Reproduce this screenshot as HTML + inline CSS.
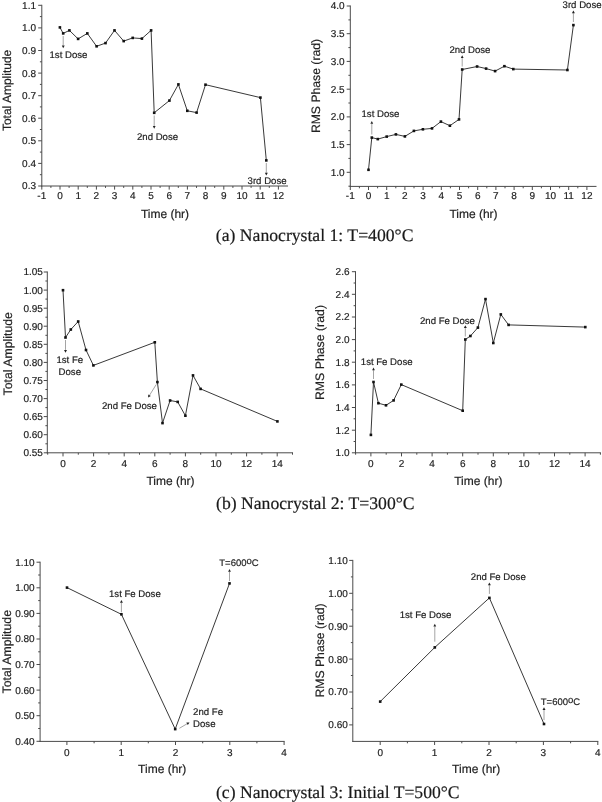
<!DOCTYPE html>
<html><head><meta charset="utf-8"><title>Figure</title>
<style>
html,body{margin:0;padding:0;background:#fff;}
svg{display:block;text-rendering:geometricPrecision;}
.t{font-family:"Liberation Sans",Arial,sans-serif;fill:#222;stroke:#222;stroke-width:0.18px;}
.c{font-family:"Liberation Serif","Times New Roman",serif;fill:#1a1a1a;stroke:#1a1a1a;stroke-width:0.2px;}
</style></head><body>
<svg width="602" height="802" viewBox="0 0 602 802">
<rect width="602" height="802" fill="#fff"/>
<line x1="41.8" y1="4.8" x2="41.8" y2="186.5" stroke="#4a4a4a" stroke-width="1"/>
<line x1="41.3" y1="186.0" x2="288.0" y2="186.0" stroke="#4a4a4a" stroke-width="1"/>
<line x1="38.2" y1="186.0" x2="41.8" y2="186.0" stroke="#4a4a4a" stroke-width="1"/>
<text x="36.0" y="189.4" font-size="10" text-anchor="end" class="t">0.3</text>
<line x1="38.2" y1="163.4" x2="41.8" y2="163.4" stroke="#4a4a4a" stroke-width="1"/>
<text x="36.0" y="166.8" font-size="10" text-anchor="end" class="t">0.4</text>
<line x1="38.2" y1="140.8" x2="41.8" y2="140.8" stroke="#4a4a4a" stroke-width="1"/>
<text x="36.0" y="144.2" font-size="10" text-anchor="end" class="t">0.5</text>
<line x1="38.2" y1="118.2" x2="41.8" y2="118.2" stroke="#4a4a4a" stroke-width="1"/>
<text x="36.0" y="121.6" font-size="10" text-anchor="end" class="t">0.6</text>
<line x1="38.2" y1="95.7" x2="41.8" y2="95.7" stroke="#4a4a4a" stroke-width="1"/>
<text x="36.0" y="99.1" font-size="10" text-anchor="end" class="t">0.7</text>
<line x1="38.2" y1="73.1" x2="41.8" y2="73.1" stroke="#4a4a4a" stroke-width="1"/>
<text x="36.0" y="76.5" font-size="10" text-anchor="end" class="t">0.8</text>
<line x1="38.2" y1="50.5" x2="41.8" y2="50.5" stroke="#4a4a4a" stroke-width="1"/>
<text x="36.0" y="53.9" font-size="10" text-anchor="end" class="t">0.9</text>
<line x1="38.2" y1="27.9" x2="41.8" y2="27.9" stroke="#4a4a4a" stroke-width="1"/>
<text x="36.0" y="31.3" font-size="10" text-anchor="end" class="t">1.0</text>
<line x1="38.2" y1="5.3" x2="41.8" y2="5.3" stroke="#4a4a4a" stroke-width="1"/>
<text x="36.0" y="8.7" font-size="10" text-anchor="end" class="t">1.1</text>
<line x1="39.9" y1="174.7" x2="41.8" y2="174.7" stroke="#4a4a4a" stroke-width="1"/>
<line x1="39.9" y1="152.1" x2="41.8" y2="152.1" stroke="#4a4a4a" stroke-width="1"/>
<line x1="39.9" y1="129.5" x2="41.8" y2="129.5" stroke="#4a4a4a" stroke-width="1"/>
<line x1="39.9" y1="106.9" x2="41.8" y2="106.9" stroke="#4a4a4a" stroke-width="1"/>
<line x1="39.9" y1="84.4" x2="41.8" y2="84.4" stroke="#4a4a4a" stroke-width="1"/>
<line x1="39.9" y1="61.8" x2="41.8" y2="61.8" stroke="#4a4a4a" stroke-width="1"/>
<line x1="39.9" y1="39.2" x2="41.8" y2="39.2" stroke="#4a4a4a" stroke-width="1"/>
<line x1="39.9" y1="16.6" x2="41.8" y2="16.6" stroke="#4a4a4a" stroke-width="1"/>
<line x1="41.8" y1="186.0" x2="41.8" y2="189.6" stroke="#4a4a4a" stroke-width="1"/>
<text x="41.8" y="199.4" font-size="10" text-anchor="middle" class="t">-1</text>
<line x1="60.0" y1="186.0" x2="60.0" y2="189.6" stroke="#4a4a4a" stroke-width="1"/>
<text x="60.0" y="199.4" font-size="10" text-anchor="middle" class="t">0</text>
<line x1="78.2" y1="186.0" x2="78.2" y2="189.6" stroke="#4a4a4a" stroke-width="1"/>
<text x="78.2" y="199.4" font-size="10" text-anchor="middle" class="t">1</text>
<line x1="96.4" y1="186.0" x2="96.4" y2="189.6" stroke="#4a4a4a" stroke-width="1"/>
<text x="96.4" y="199.4" font-size="10" text-anchor="middle" class="t">2</text>
<line x1="114.6" y1="186.0" x2="114.6" y2="189.6" stroke="#4a4a4a" stroke-width="1"/>
<text x="114.6" y="199.4" font-size="10" text-anchor="middle" class="t">3</text>
<line x1="132.8" y1="186.0" x2="132.8" y2="189.6" stroke="#4a4a4a" stroke-width="1"/>
<text x="132.8" y="199.4" font-size="10" text-anchor="middle" class="t">4</text>
<line x1="151.0" y1="186.0" x2="151.0" y2="189.6" stroke="#4a4a4a" stroke-width="1"/>
<text x="151.0" y="199.4" font-size="10" text-anchor="middle" class="t">5</text>
<line x1="169.2" y1="186.0" x2="169.2" y2="189.6" stroke="#4a4a4a" stroke-width="1"/>
<text x="169.2" y="199.4" font-size="10" text-anchor="middle" class="t">6</text>
<line x1="187.4" y1="186.0" x2="187.4" y2="189.6" stroke="#4a4a4a" stroke-width="1"/>
<text x="187.4" y="199.4" font-size="10" text-anchor="middle" class="t">7</text>
<line x1="205.6" y1="186.0" x2="205.6" y2="189.6" stroke="#4a4a4a" stroke-width="1"/>
<text x="205.6" y="199.4" font-size="10" text-anchor="middle" class="t">8</text>
<line x1="223.8" y1="186.0" x2="223.8" y2="189.6" stroke="#4a4a4a" stroke-width="1"/>
<text x="223.8" y="199.4" font-size="10" text-anchor="middle" class="t">9</text>
<line x1="242.0" y1="186.0" x2="242.0" y2="189.6" stroke="#4a4a4a" stroke-width="1"/>
<text x="242.0" y="199.4" font-size="10" text-anchor="middle" class="t">10</text>
<line x1="260.2" y1="186.0" x2="260.2" y2="189.6" stroke="#4a4a4a" stroke-width="1"/>
<text x="260.2" y="199.4" font-size="10" text-anchor="middle" class="t">11</text>
<line x1="278.4" y1="186.0" x2="278.4" y2="189.6" stroke="#4a4a4a" stroke-width="1"/>
<text x="278.4" y="199.4" font-size="10" text-anchor="middle" class="t">12</text>
<line x1="50.9" y1="186.0" x2="50.9" y2="187.9" stroke="#4a4a4a" stroke-width="1"/>
<line x1="69.1" y1="186.0" x2="69.1" y2="187.9" stroke="#4a4a4a" stroke-width="1"/>
<line x1="87.3" y1="186.0" x2="87.3" y2="187.9" stroke="#4a4a4a" stroke-width="1"/>
<line x1="105.5" y1="186.0" x2="105.5" y2="187.9" stroke="#4a4a4a" stroke-width="1"/>
<line x1="123.7" y1="186.0" x2="123.7" y2="187.9" stroke="#4a4a4a" stroke-width="1"/>
<line x1="141.9" y1="186.0" x2="141.9" y2="187.9" stroke="#4a4a4a" stroke-width="1"/>
<line x1="160.1" y1="186.0" x2="160.1" y2="187.9" stroke="#4a4a4a" stroke-width="1"/>
<line x1="178.3" y1="186.0" x2="178.3" y2="187.9" stroke="#4a4a4a" stroke-width="1"/>
<line x1="196.5" y1="186.0" x2="196.5" y2="187.9" stroke="#4a4a4a" stroke-width="1"/>
<line x1="214.7" y1="186.0" x2="214.7" y2="187.9" stroke="#4a4a4a" stroke-width="1"/>
<line x1="232.9" y1="186.0" x2="232.9" y2="187.9" stroke="#4a4a4a" stroke-width="1"/>
<line x1="251.1" y1="186.0" x2="251.1" y2="187.9" stroke="#4a4a4a" stroke-width="1"/>
<line x1="269.3" y1="186.0" x2="269.3" y2="187.9" stroke="#4a4a4a" stroke-width="1"/>
<text x="11.2" y="90.4" font-size="12" text-anchor="middle" class="t" transform="rotate(-90 11.2 90.4)">Total Amplitude</text>
<text x="165.0" y="218.3" font-size="12" text-anchor="middle" class="t">Time (hr)</text>
<polyline points="59.9,27.4 63.2,33.4 69.4,30.4 78.1,38.9 87.3,33.4 96.6,46.3 105.5,43.1 114.5,30.4 123.7,41.1 132.7,37.9 141.9,38.6 151.1,30.4 154.2,112.8 169.4,100.6 178.4,84.4 187.3,110.8 196.6,112.6 205.5,84.7 260.4,97.6 266.3,160.4" fill="none" stroke="#222" stroke-width="0.9"/>
<rect x="58.6" y="26.1" width="2.6" height="2.6" fill="#111"/>
<rect x="61.9" y="32.1" width="2.6" height="2.6" fill="#111"/>
<rect x="68.1" y="29.1" width="2.6" height="2.6" fill="#111"/>
<rect x="76.8" y="37.6" width="2.6" height="2.6" fill="#111"/>
<rect x="86.0" y="32.1" width="2.6" height="2.6" fill="#111"/>
<rect x="95.3" y="45.0" width="2.6" height="2.6" fill="#111"/>
<rect x="104.2" y="41.8" width="2.6" height="2.6" fill="#111"/>
<rect x="113.2" y="29.1" width="2.6" height="2.6" fill="#111"/>
<rect x="122.4" y="39.8" width="2.6" height="2.6" fill="#111"/>
<rect x="131.4" y="36.6" width="2.6" height="2.6" fill="#111"/>
<rect x="140.6" y="37.3" width="2.6" height="2.6" fill="#111"/>
<rect x="149.8" y="29.1" width="2.6" height="2.6" fill="#111"/>
<rect x="152.9" y="111.5" width="2.6" height="2.6" fill="#111"/>
<rect x="168.1" y="99.3" width="2.6" height="2.6" fill="#111"/>
<rect x="177.1" y="83.1" width="2.6" height="2.6" fill="#111"/>
<rect x="186.0" y="109.5" width="2.6" height="2.6" fill="#111"/>
<rect x="195.3" y="111.3" width="2.6" height="2.6" fill="#111"/>
<rect x="204.2" y="83.4" width="2.6" height="2.6" fill="#111"/>
<rect x="259.1" y="96.3" width="2.6" height="2.6" fill="#111"/>
<rect x="265.0" y="159.1" width="2.6" height="2.6" fill="#111"/>
<line x1="63.2" y1="36.0" x2="63.2" y2="45.5" stroke="#9a9a9a" stroke-width="0.9"/>
<polygon points="63.2,48.3 61.8,45.5 64.7,45.5" fill="#222"/>
<text x="49.5" y="58.0" font-size="9.6" text-anchor="start" class="t">1st Dose</text>
<line x1="154.2" y1="115.5" x2="154.2" y2="126.0" stroke="#9a9a9a" stroke-width="0.9"/>
<polygon points="154.2,128.8 152.8,126.0 155.6,126.0" fill="#222"/>
<text x="137.0" y="140.2" font-size="9.6" text-anchor="start" class="t">2nd Dose</text>
<line x1="266.3" y1="163.0" x2="266.3" y2="172.8" stroke="#9a9a9a" stroke-width="0.9"/>
<polygon points="266.3,175.6 264.9,172.8 267.8,172.8" fill="#222"/>
<text x="247.6" y="183.8" font-size="9.6" text-anchor="start" class="t">3rd Dose</text>
<line x1="350.3" y1="5.5" x2="350.3" y2="186.9" stroke="#4a4a4a" stroke-width="1"/>
<line x1="349.8" y1="186.4" x2="596.5" y2="186.4" stroke="#4a4a4a" stroke-width="1"/>
<line x1="346.7" y1="172.3" x2="350.3" y2="172.3" stroke="#4a4a4a" stroke-width="1"/>
<text x="344.6" y="175.7" font-size="10" text-anchor="end" class="t">1.0</text>
<line x1="346.7" y1="144.6" x2="350.3" y2="144.6" stroke="#4a4a4a" stroke-width="1"/>
<text x="344.6" y="148.0" font-size="10" text-anchor="end" class="t">1.5</text>
<line x1="346.7" y1="116.9" x2="350.3" y2="116.9" stroke="#4a4a4a" stroke-width="1"/>
<text x="344.6" y="120.3" font-size="10" text-anchor="end" class="t">2.0</text>
<line x1="346.7" y1="89.2" x2="350.3" y2="89.2" stroke="#4a4a4a" stroke-width="1"/>
<text x="344.6" y="92.6" font-size="10" text-anchor="end" class="t">2.5</text>
<line x1="346.7" y1="61.4" x2="350.3" y2="61.4" stroke="#4a4a4a" stroke-width="1"/>
<text x="344.6" y="64.8" font-size="10" text-anchor="end" class="t">3.0</text>
<line x1="346.7" y1="33.7" x2="350.3" y2="33.7" stroke="#4a4a4a" stroke-width="1"/>
<text x="344.6" y="37.1" font-size="10" text-anchor="end" class="t">3.5</text>
<line x1="346.7" y1="6.0" x2="350.3" y2="6.0" stroke="#4a4a4a" stroke-width="1"/>
<text x="344.6" y="9.4" font-size="10" text-anchor="end" class="t">4.0</text>
<line x1="348.4" y1="186.2" x2="350.3" y2="186.2" stroke="#4a4a4a" stroke-width="1"/>
<line x1="348.4" y1="158.4" x2="350.3" y2="158.4" stroke="#4a4a4a" stroke-width="1"/>
<line x1="348.4" y1="130.7" x2="350.3" y2="130.7" stroke="#4a4a4a" stroke-width="1"/>
<line x1="348.4" y1="103.0" x2="350.3" y2="103.0" stroke="#4a4a4a" stroke-width="1"/>
<line x1="348.4" y1="75.3" x2="350.3" y2="75.3" stroke="#4a4a4a" stroke-width="1"/>
<line x1="348.4" y1="47.6" x2="350.3" y2="47.6" stroke="#4a4a4a" stroke-width="1"/>
<line x1="348.4" y1="19.9" x2="350.3" y2="19.9" stroke="#4a4a4a" stroke-width="1"/>
<line x1="350.3" y1="186.4" x2="350.3" y2="190.0" stroke="#4a4a4a" stroke-width="1"/>
<text x="350.3" y="199.4" font-size="10" text-anchor="middle" class="t">-1</text>
<line x1="368.5" y1="186.4" x2="368.5" y2="190.0" stroke="#4a4a4a" stroke-width="1"/>
<text x="368.5" y="199.4" font-size="10" text-anchor="middle" class="t">0</text>
<line x1="386.7" y1="186.4" x2="386.7" y2="190.0" stroke="#4a4a4a" stroke-width="1"/>
<text x="386.7" y="199.4" font-size="10" text-anchor="middle" class="t">1</text>
<line x1="404.9" y1="186.4" x2="404.9" y2="190.0" stroke="#4a4a4a" stroke-width="1"/>
<text x="404.9" y="199.4" font-size="10" text-anchor="middle" class="t">2</text>
<line x1="423.1" y1="186.4" x2="423.1" y2="190.0" stroke="#4a4a4a" stroke-width="1"/>
<text x="423.1" y="199.4" font-size="10" text-anchor="middle" class="t">3</text>
<line x1="441.3" y1="186.4" x2="441.3" y2="190.0" stroke="#4a4a4a" stroke-width="1"/>
<text x="441.3" y="199.4" font-size="10" text-anchor="middle" class="t">4</text>
<line x1="459.5" y1="186.4" x2="459.5" y2="190.0" stroke="#4a4a4a" stroke-width="1"/>
<text x="459.5" y="199.4" font-size="10" text-anchor="middle" class="t">5</text>
<line x1="477.7" y1="186.4" x2="477.7" y2="190.0" stroke="#4a4a4a" stroke-width="1"/>
<text x="477.7" y="199.4" font-size="10" text-anchor="middle" class="t">6</text>
<line x1="495.9" y1="186.4" x2="495.9" y2="190.0" stroke="#4a4a4a" stroke-width="1"/>
<text x="495.9" y="199.4" font-size="10" text-anchor="middle" class="t">7</text>
<line x1="514.1" y1="186.4" x2="514.1" y2="190.0" stroke="#4a4a4a" stroke-width="1"/>
<text x="514.1" y="199.4" font-size="10" text-anchor="middle" class="t">8</text>
<line x1="532.3" y1="186.4" x2="532.3" y2="190.0" stroke="#4a4a4a" stroke-width="1"/>
<text x="532.3" y="199.4" font-size="10" text-anchor="middle" class="t">9</text>
<line x1="550.5" y1="186.4" x2="550.5" y2="190.0" stroke="#4a4a4a" stroke-width="1"/>
<text x="550.5" y="199.4" font-size="10" text-anchor="middle" class="t">10</text>
<line x1="568.7" y1="186.4" x2="568.7" y2="190.0" stroke="#4a4a4a" stroke-width="1"/>
<text x="568.7" y="199.4" font-size="10" text-anchor="middle" class="t">11</text>
<line x1="586.9" y1="186.4" x2="586.9" y2="190.0" stroke="#4a4a4a" stroke-width="1"/>
<text x="586.9" y="199.4" font-size="10" text-anchor="middle" class="t">12</text>
<line x1="359.4" y1="186.4" x2="359.4" y2="188.3" stroke="#4a4a4a" stroke-width="1"/>
<line x1="377.6" y1="186.4" x2="377.6" y2="188.3" stroke="#4a4a4a" stroke-width="1"/>
<line x1="395.8" y1="186.4" x2="395.8" y2="188.3" stroke="#4a4a4a" stroke-width="1"/>
<line x1="414.0" y1="186.4" x2="414.0" y2="188.3" stroke="#4a4a4a" stroke-width="1"/>
<line x1="432.2" y1="186.4" x2="432.2" y2="188.3" stroke="#4a4a4a" stroke-width="1"/>
<line x1="450.4" y1="186.4" x2="450.4" y2="188.3" stroke="#4a4a4a" stroke-width="1"/>
<line x1="468.6" y1="186.4" x2="468.6" y2="188.3" stroke="#4a4a4a" stroke-width="1"/>
<line x1="486.8" y1="186.4" x2="486.8" y2="188.3" stroke="#4a4a4a" stroke-width="1"/>
<line x1="505.0" y1="186.4" x2="505.0" y2="188.3" stroke="#4a4a4a" stroke-width="1"/>
<line x1="523.2" y1="186.4" x2="523.2" y2="188.3" stroke="#4a4a4a" stroke-width="1"/>
<line x1="541.4" y1="186.4" x2="541.4" y2="188.3" stroke="#4a4a4a" stroke-width="1"/>
<line x1="559.6" y1="186.4" x2="559.6" y2="188.3" stroke="#4a4a4a" stroke-width="1"/>
<line x1="577.8" y1="186.4" x2="577.8" y2="188.3" stroke="#4a4a4a" stroke-width="1"/>
<text x="319.8" y="86.0" font-size="12.2" text-anchor="middle" class="t" transform="rotate(-90 319.8 86.0)">RMS Phase (rad)</text>
<text x="473.5" y="218.1" font-size="12" text-anchor="middle" class="t">Time (hr)</text>
<polyline points="368.5,169.8 371.8,137.6 377.8,139.1 386.7,136.6 395.9,134.4 404.9,136.4 413.9,130.9 422.9,129.3 432.0,128.4 440.9,121.6 449.9,125.7 459.0,119.4 462.2,69.5 477.1,66.5 486.1,68.6 495.1,71.1 504.4,66.2 513.3,69.1 567.4,70.0 573.4,25.1" fill="none" stroke="#222" stroke-width="0.9"/>
<rect x="367.2" y="168.5" width="2.6" height="2.6" fill="#111"/>
<rect x="370.5" y="136.3" width="2.6" height="2.6" fill="#111"/>
<rect x="376.5" y="137.8" width="2.6" height="2.6" fill="#111"/>
<rect x="385.4" y="135.3" width="2.6" height="2.6" fill="#111"/>
<rect x="394.6" y="133.1" width="2.6" height="2.6" fill="#111"/>
<rect x="403.6" y="135.1" width="2.6" height="2.6" fill="#111"/>
<rect x="412.6" y="129.6" width="2.6" height="2.6" fill="#111"/>
<rect x="421.6" y="128.0" width="2.6" height="2.6" fill="#111"/>
<rect x="430.7" y="127.1" width="2.6" height="2.6" fill="#111"/>
<rect x="439.6" y="120.3" width="2.6" height="2.6" fill="#111"/>
<rect x="448.6" y="124.4" width="2.6" height="2.6" fill="#111"/>
<rect x="457.7" y="118.1" width="2.6" height="2.6" fill="#111"/>
<rect x="460.9" y="68.2" width="2.6" height="2.6" fill="#111"/>
<rect x="475.8" y="65.2" width="2.6" height="2.6" fill="#111"/>
<rect x="484.8" y="67.3" width="2.6" height="2.6" fill="#111"/>
<rect x="493.8" y="69.8" width="2.6" height="2.6" fill="#111"/>
<rect x="503.1" y="64.9" width="2.6" height="2.6" fill="#111"/>
<rect x="512.0" y="67.8" width="2.6" height="2.6" fill="#111"/>
<rect x="566.1" y="68.7" width="2.6" height="2.6" fill="#111"/>
<rect x="572.1" y="23.8" width="2.6" height="2.6" fill="#111"/>
<line x1="371.8" y1="134.5" x2="371.8" y2="123.8" stroke="#9a9a9a" stroke-width="0.9"/>
<polygon points="371.8,121.0 373.2,123.8 370.4,123.8" fill="#222"/>
<text x="361.5" y="116.5" font-size="9.6" text-anchor="start" class="t">1st Dose</text>
<line x1="462.2" y1="66.5" x2="462.2" y2="58.1" stroke="#9a9a9a" stroke-width="0.9"/>
<polygon points="462.2,55.3 463.6,58.1 460.8,58.1" fill="#222"/>
<text x="449.4" y="52.6" font-size="9.6" text-anchor="start" class="t">2nd Dose</text>
<line x1="573.4" y1="22.0" x2="573.4" y2="13.2" stroke="#9a9a9a" stroke-width="0.9"/>
<polygon points="573.4,10.4 574.9,13.2 571.9,13.2" fill="#222"/>
<text x="562.6" y="8.0" font-size="9.6" text-anchor="start" class="t">3rd Dose</text>
<line x1="47.3" y1="271.5" x2="47.3" y2="453.3" stroke="#4a4a4a" stroke-width="1"/>
<line x1="46.8" y1="452.8" x2="293.0" y2="452.8" stroke="#4a4a4a" stroke-width="1"/>
<line x1="43.7" y1="452.8" x2="47.3" y2="452.8" stroke="#4a4a4a" stroke-width="1"/>
<text x="42.9" y="456.2" font-size="10" text-anchor="end" class="t">0.55</text>
<line x1="43.7" y1="434.7" x2="47.3" y2="434.7" stroke="#4a4a4a" stroke-width="1"/>
<text x="42.9" y="438.1" font-size="10" text-anchor="end" class="t">0.60</text>
<line x1="43.7" y1="416.6" x2="47.3" y2="416.6" stroke="#4a4a4a" stroke-width="1"/>
<text x="42.9" y="420.0" font-size="10" text-anchor="end" class="t">0.65</text>
<line x1="43.7" y1="398.6" x2="47.3" y2="398.6" stroke="#4a4a4a" stroke-width="1"/>
<text x="42.9" y="402.0" font-size="10" text-anchor="end" class="t">0.70</text>
<line x1="43.7" y1="380.5" x2="47.3" y2="380.5" stroke="#4a4a4a" stroke-width="1"/>
<text x="42.9" y="383.9" font-size="10" text-anchor="end" class="t">0.75</text>
<line x1="43.7" y1="362.4" x2="47.3" y2="362.4" stroke="#4a4a4a" stroke-width="1"/>
<text x="42.9" y="365.8" font-size="10" text-anchor="end" class="t">0.80</text>
<line x1="43.7" y1="344.3" x2="47.3" y2="344.3" stroke="#4a4a4a" stroke-width="1"/>
<text x="42.9" y="347.7" font-size="10" text-anchor="end" class="t">0.85</text>
<line x1="43.7" y1="326.2" x2="47.3" y2="326.2" stroke="#4a4a4a" stroke-width="1"/>
<text x="42.9" y="329.6" font-size="10" text-anchor="end" class="t">0.90</text>
<line x1="43.7" y1="308.2" x2="47.3" y2="308.2" stroke="#4a4a4a" stroke-width="1"/>
<text x="42.9" y="311.6" font-size="10" text-anchor="end" class="t">0.95</text>
<line x1="43.7" y1="290.1" x2="47.3" y2="290.1" stroke="#4a4a4a" stroke-width="1"/>
<text x="42.9" y="293.5" font-size="10" text-anchor="end" class="t">1.00</text>
<line x1="43.7" y1="272.0" x2="47.3" y2="272.0" stroke="#4a4a4a" stroke-width="1"/>
<text x="42.9" y="275.4" font-size="10" text-anchor="end" class="t">1.05</text>
<line x1="45.4" y1="443.8" x2="47.3" y2="443.8" stroke="#4a4a4a" stroke-width="1"/>
<line x1="45.4" y1="425.7" x2="47.3" y2="425.7" stroke="#4a4a4a" stroke-width="1"/>
<line x1="45.4" y1="407.6" x2="47.3" y2="407.6" stroke="#4a4a4a" stroke-width="1"/>
<line x1="45.4" y1="389.5" x2="47.3" y2="389.5" stroke="#4a4a4a" stroke-width="1"/>
<line x1="45.4" y1="371.4" x2="47.3" y2="371.4" stroke="#4a4a4a" stroke-width="1"/>
<line x1="45.4" y1="353.4" x2="47.3" y2="353.4" stroke="#4a4a4a" stroke-width="1"/>
<line x1="45.4" y1="335.3" x2="47.3" y2="335.3" stroke="#4a4a4a" stroke-width="1"/>
<line x1="45.4" y1="317.2" x2="47.3" y2="317.2" stroke="#4a4a4a" stroke-width="1"/>
<line x1="45.4" y1="299.1" x2="47.3" y2="299.1" stroke="#4a4a4a" stroke-width="1"/>
<line x1="45.4" y1="281.0" x2="47.3" y2="281.0" stroke="#4a4a4a" stroke-width="1"/>
<line x1="63.0" y1="452.8" x2="63.0" y2="456.4" stroke="#4a4a4a" stroke-width="1"/>
<text x="63.0" y="466.6" font-size="10" text-anchor="middle" class="t">0</text>
<line x1="93.6" y1="452.8" x2="93.6" y2="456.4" stroke="#4a4a4a" stroke-width="1"/>
<text x="93.6" y="466.6" font-size="10" text-anchor="middle" class="t">2</text>
<line x1="124.2" y1="452.8" x2="124.2" y2="456.4" stroke="#4a4a4a" stroke-width="1"/>
<text x="124.2" y="466.6" font-size="10" text-anchor="middle" class="t">4</text>
<line x1="154.8" y1="452.8" x2="154.8" y2="456.4" stroke="#4a4a4a" stroke-width="1"/>
<text x="154.8" y="466.6" font-size="10" text-anchor="middle" class="t">6</text>
<line x1="185.4" y1="452.8" x2="185.4" y2="456.4" stroke="#4a4a4a" stroke-width="1"/>
<text x="185.4" y="466.6" font-size="10" text-anchor="middle" class="t">8</text>
<line x1="216.0" y1="452.8" x2="216.0" y2="456.4" stroke="#4a4a4a" stroke-width="1"/>
<text x="216.0" y="466.6" font-size="10" text-anchor="middle" class="t">10</text>
<line x1="246.6" y1="452.8" x2="246.6" y2="456.4" stroke="#4a4a4a" stroke-width="1"/>
<text x="246.6" y="466.6" font-size="10" text-anchor="middle" class="t">12</text>
<line x1="277.2" y1="452.8" x2="277.2" y2="456.4" stroke="#4a4a4a" stroke-width="1"/>
<text x="277.2" y="466.6" font-size="10" text-anchor="middle" class="t">14</text>
<line x1="47.7" y1="452.8" x2="47.7" y2="454.7" stroke="#4a4a4a" stroke-width="1"/>
<line x1="78.3" y1="452.8" x2="78.3" y2="454.7" stroke="#4a4a4a" stroke-width="1"/>
<line x1="108.9" y1="452.8" x2="108.9" y2="454.7" stroke="#4a4a4a" stroke-width="1"/>
<line x1="139.5" y1="452.8" x2="139.5" y2="454.7" stroke="#4a4a4a" stroke-width="1"/>
<line x1="170.1" y1="452.8" x2="170.1" y2="454.7" stroke="#4a4a4a" stroke-width="1"/>
<line x1="200.7" y1="452.8" x2="200.7" y2="454.7" stroke="#4a4a4a" stroke-width="1"/>
<line x1="231.3" y1="452.8" x2="231.3" y2="454.7" stroke="#4a4a4a" stroke-width="1"/>
<line x1="261.9" y1="452.8" x2="261.9" y2="454.7" stroke="#4a4a4a" stroke-width="1"/>
<line x1="292.5" y1="452.8" x2="292.5" y2="454.7" stroke="#4a4a4a" stroke-width="1"/>
<text x="11.6" y="353.8" font-size="12.3" text-anchor="middle" class="t" transform="rotate(-90 11.6 353.8)">Total Amplitude</text>
<text x="170.5" y="484.9" font-size="12" text-anchor="middle" class="t">Time (hr)</text>
<polyline points="63.0,290.2 65.5,337.5 70.8,329.5 78.2,321.5 86.0,350.0 93.4,365.4 154.8,342.3 157.4,382.1 162.5,423.1 170.1,400.5 177.7,401.9 185.4,415.7 193.0,375.4 200.6,388.9 277.4,421.4" fill="none" stroke="#222" stroke-width="0.9"/>
<rect x="61.7" y="288.9" width="2.6" height="2.6" fill="#111"/>
<rect x="64.2" y="336.2" width="2.6" height="2.6" fill="#111"/>
<rect x="69.5" y="328.2" width="2.6" height="2.6" fill="#111"/>
<rect x="76.9" y="320.2" width="2.6" height="2.6" fill="#111"/>
<rect x="84.7" y="348.7" width="2.6" height="2.6" fill="#111"/>
<rect x="92.1" y="364.1" width="2.6" height="2.6" fill="#111"/>
<rect x="153.5" y="341.0" width="2.6" height="2.6" fill="#111"/>
<rect x="156.1" y="380.8" width="2.6" height="2.6" fill="#111"/>
<rect x="161.2" y="421.8" width="2.6" height="2.6" fill="#111"/>
<rect x="168.8" y="399.2" width="2.6" height="2.6" fill="#111"/>
<rect x="176.4" y="400.6" width="2.6" height="2.6" fill="#111"/>
<rect x="184.1" y="414.4" width="2.6" height="2.6" fill="#111"/>
<rect x="191.7" y="374.1" width="2.6" height="2.6" fill="#111"/>
<rect x="199.3" y="387.6" width="2.6" height="2.6" fill="#111"/>
<rect x="276.1" y="420.1" width="2.6" height="2.6" fill="#111"/>
<line x1="65.5" y1="340.0" x2="65.5" y2="349.9" stroke="#9a9a9a" stroke-width="0.9"/>
<polygon points="65.5,352.7 64.0,349.9 67.0,349.9" fill="#222"/>
<text x="69.8" y="362.9" font-size="9.6" text-anchor="middle" class="t">1st Fe</text>
<text x="69.8" y="374.9" font-size="9.6" text-anchor="middle" class="t">Dose</text>
<line x1="156.3" y1="384.4" x2="149.5" y2="395.3" stroke="#9a9a9a" stroke-width="0.9"/>
<polygon points="148.1,397.6 148.3,394.5 150.8,396.0" fill="#222"/>
<text x="102.0" y="409.0" font-size="9.6" text-anchor="start" class="t">2nd Fe Dose</text>
<line x1="355.5" y1="271.2" x2="355.5" y2="453.3" stroke="#4a4a4a" stroke-width="1"/>
<line x1="355.0" y1="452.8" x2="600.9" y2="452.8" stroke="#4a4a4a" stroke-width="1"/>
<line x1="351.9" y1="452.8" x2="355.5" y2="452.8" stroke="#4a4a4a" stroke-width="1"/>
<text x="349.5" y="456.2" font-size="10" text-anchor="end" class="t">1.0</text>
<line x1="351.9" y1="430.2" x2="355.5" y2="430.2" stroke="#4a4a4a" stroke-width="1"/>
<text x="349.5" y="433.6" font-size="10" text-anchor="end" class="t">1.2</text>
<line x1="351.9" y1="407.5" x2="355.5" y2="407.5" stroke="#4a4a4a" stroke-width="1"/>
<text x="349.5" y="410.9" font-size="10" text-anchor="end" class="t">1.4</text>
<line x1="351.9" y1="384.9" x2="355.5" y2="384.9" stroke="#4a4a4a" stroke-width="1"/>
<text x="349.5" y="388.3" font-size="10" text-anchor="end" class="t">1.6</text>
<line x1="351.9" y1="362.2" x2="355.5" y2="362.2" stroke="#4a4a4a" stroke-width="1"/>
<text x="349.5" y="365.6" font-size="10" text-anchor="end" class="t">1.8</text>
<line x1="351.9" y1="339.6" x2="355.5" y2="339.6" stroke="#4a4a4a" stroke-width="1"/>
<text x="349.5" y="343.0" font-size="10" text-anchor="end" class="t">2.0</text>
<line x1="351.9" y1="317.0" x2="355.5" y2="317.0" stroke="#4a4a4a" stroke-width="1"/>
<text x="349.5" y="320.4" font-size="10" text-anchor="end" class="t">2.2</text>
<line x1="351.9" y1="294.3" x2="355.5" y2="294.3" stroke="#4a4a4a" stroke-width="1"/>
<text x="349.5" y="297.7" font-size="10" text-anchor="end" class="t">2.4</text>
<line x1="351.9" y1="271.7" x2="355.5" y2="271.7" stroke="#4a4a4a" stroke-width="1"/>
<text x="349.5" y="275.1" font-size="10" text-anchor="end" class="t">2.6</text>
<line x1="353.6" y1="441.5" x2="355.5" y2="441.5" stroke="#4a4a4a" stroke-width="1"/>
<line x1="353.6" y1="418.8" x2="355.5" y2="418.8" stroke="#4a4a4a" stroke-width="1"/>
<line x1="353.6" y1="396.2" x2="355.5" y2="396.2" stroke="#4a4a4a" stroke-width="1"/>
<line x1="353.6" y1="373.6" x2="355.5" y2="373.6" stroke="#4a4a4a" stroke-width="1"/>
<line x1="353.6" y1="350.9" x2="355.5" y2="350.9" stroke="#4a4a4a" stroke-width="1"/>
<line x1="353.6" y1="328.3" x2="355.5" y2="328.3" stroke="#4a4a4a" stroke-width="1"/>
<line x1="353.6" y1="305.7" x2="355.5" y2="305.7" stroke="#4a4a4a" stroke-width="1"/>
<line x1="353.6" y1="283.0" x2="355.5" y2="283.0" stroke="#4a4a4a" stroke-width="1"/>
<line x1="370.9" y1="452.8" x2="370.9" y2="456.4" stroke="#4a4a4a" stroke-width="1"/>
<text x="370.9" y="466.6" font-size="10" text-anchor="middle" class="t">0</text>
<line x1="401.5" y1="452.8" x2="401.5" y2="456.4" stroke="#4a4a4a" stroke-width="1"/>
<text x="401.5" y="466.6" font-size="10" text-anchor="middle" class="t">2</text>
<line x1="432.1" y1="452.8" x2="432.1" y2="456.4" stroke="#4a4a4a" stroke-width="1"/>
<text x="432.1" y="466.6" font-size="10" text-anchor="middle" class="t">4</text>
<line x1="462.7" y1="452.8" x2="462.7" y2="456.4" stroke="#4a4a4a" stroke-width="1"/>
<text x="462.7" y="466.6" font-size="10" text-anchor="middle" class="t">6</text>
<line x1="493.3" y1="452.8" x2="493.3" y2="456.4" stroke="#4a4a4a" stroke-width="1"/>
<text x="493.3" y="466.6" font-size="10" text-anchor="middle" class="t">8</text>
<line x1="523.9" y1="452.8" x2="523.9" y2="456.4" stroke="#4a4a4a" stroke-width="1"/>
<text x="523.9" y="466.6" font-size="10" text-anchor="middle" class="t">10</text>
<line x1="554.5" y1="452.8" x2="554.5" y2="456.4" stroke="#4a4a4a" stroke-width="1"/>
<text x="554.5" y="466.6" font-size="10" text-anchor="middle" class="t">12</text>
<line x1="585.1" y1="452.8" x2="585.1" y2="456.4" stroke="#4a4a4a" stroke-width="1"/>
<text x="585.1" y="466.6" font-size="10" text-anchor="middle" class="t">14</text>
<line x1="355.6" y1="452.8" x2="355.6" y2="454.7" stroke="#4a4a4a" stroke-width="1"/>
<line x1="386.2" y1="452.8" x2="386.2" y2="454.7" stroke="#4a4a4a" stroke-width="1"/>
<line x1="416.8" y1="452.8" x2="416.8" y2="454.7" stroke="#4a4a4a" stroke-width="1"/>
<line x1="447.4" y1="452.8" x2="447.4" y2="454.7" stroke="#4a4a4a" stroke-width="1"/>
<line x1="478.0" y1="452.8" x2="478.0" y2="454.7" stroke="#4a4a4a" stroke-width="1"/>
<line x1="508.6" y1="452.8" x2="508.6" y2="454.7" stroke="#4a4a4a" stroke-width="1"/>
<line x1="539.2" y1="452.8" x2="539.2" y2="454.7" stroke="#4a4a4a" stroke-width="1"/>
<line x1="569.8" y1="452.8" x2="569.8" y2="454.7" stroke="#4a4a4a" stroke-width="1"/>
<line x1="600.4" y1="452.8" x2="600.4" y2="454.7" stroke="#4a4a4a" stroke-width="1"/>
<text x="324.2" y="352.5" font-size="12.3" text-anchor="middle" class="t" transform="rotate(-90 324.2 352.5)">RMS Phase (rad)</text>
<text x="478.3" y="484.9" font-size="12" text-anchor="middle" class="t">Time (hr)</text>
<polyline points="370.9,434.9 373.5,382.0 378.4,403.2 386.0,405.3 393.6,400.4 401.3,384.6 462.7,410.7 465.3,339.5 470.4,336.0 477.9,327.6 485.5,299.1 493.3,343.0 500.8,314.4 508.6,324.9 585.3,327.1" fill="none" stroke="#222" stroke-width="0.9"/>
<rect x="369.6" y="433.6" width="2.6" height="2.6" fill="#111"/>
<rect x="372.2" y="380.7" width="2.6" height="2.6" fill="#111"/>
<rect x="377.1" y="401.9" width="2.6" height="2.6" fill="#111"/>
<rect x="384.7" y="404.0" width="2.6" height="2.6" fill="#111"/>
<rect x="392.3" y="399.1" width="2.6" height="2.6" fill="#111"/>
<rect x="400.0" y="383.3" width="2.6" height="2.6" fill="#111"/>
<rect x="461.4" y="409.4" width="2.6" height="2.6" fill="#111"/>
<rect x="464.0" y="338.2" width="2.6" height="2.6" fill="#111"/>
<rect x="469.1" y="334.7" width="2.6" height="2.6" fill="#111"/>
<rect x="476.6" y="326.3" width="2.6" height="2.6" fill="#111"/>
<rect x="484.2" y="297.8" width="2.6" height="2.6" fill="#111"/>
<rect x="492.0" y="341.7" width="2.6" height="2.6" fill="#111"/>
<rect x="499.5" y="313.1" width="2.6" height="2.6" fill="#111"/>
<rect x="507.3" y="323.6" width="2.6" height="2.6" fill="#111"/>
<rect x="584.0" y="325.8" width="2.6" height="2.6" fill="#111"/>
<line x1="373.5" y1="379.0" x2="373.5" y2="370.2" stroke="#9a9a9a" stroke-width="0.9"/>
<polygon points="373.5,367.4 374.9,370.2 372.1,370.2" fill="#222"/>
<text x="360.8" y="364.7" font-size="9.6" text-anchor="start" class="t">1st Fe Dose</text>
<line x1="465.3" y1="336.5" x2="465.3" y2="328.1" stroke="#9a9a9a" stroke-width="0.9"/>
<polygon points="465.3,325.3 466.8,328.1 463.9,328.1" fill="#222"/>
<text x="420.0" y="323.5" font-size="9.6" text-anchor="start" class="t">2nd Fe Dose</text>
<line x1="40.1" y1="561.7" x2="40.1" y2="741.9" stroke="#4a4a4a" stroke-width="1"/>
<line x1="39.6" y1="741.4" x2="284.6" y2="741.4" stroke="#4a4a4a" stroke-width="1"/>
<line x1="36.5" y1="741.3" x2="40.1" y2="741.3" stroke="#4a4a4a" stroke-width="1"/>
<text x="34.6" y="744.7" font-size="10" text-anchor="end" class="t">0.40</text>
<line x1="36.5" y1="715.7" x2="40.1" y2="715.7" stroke="#4a4a4a" stroke-width="1"/>
<text x="34.6" y="719.1" font-size="10" text-anchor="end" class="t">0.50</text>
<line x1="36.5" y1="690.1" x2="40.1" y2="690.1" stroke="#4a4a4a" stroke-width="1"/>
<text x="34.6" y="693.5" font-size="10" text-anchor="end" class="t">0.60</text>
<line x1="36.5" y1="664.5" x2="40.1" y2="664.5" stroke="#4a4a4a" stroke-width="1"/>
<text x="34.6" y="667.9" font-size="10" text-anchor="end" class="t">0.70</text>
<line x1="36.5" y1="639.0" x2="40.1" y2="639.0" stroke="#4a4a4a" stroke-width="1"/>
<text x="34.6" y="642.4" font-size="10" text-anchor="end" class="t">0.80</text>
<line x1="36.5" y1="613.4" x2="40.1" y2="613.4" stroke="#4a4a4a" stroke-width="1"/>
<text x="34.6" y="616.8" font-size="10" text-anchor="end" class="t">0.90</text>
<line x1="36.5" y1="587.8" x2="40.1" y2="587.8" stroke="#4a4a4a" stroke-width="1"/>
<text x="34.6" y="591.2" font-size="10" text-anchor="end" class="t">1.00</text>
<line x1="36.5" y1="562.2" x2="40.1" y2="562.2" stroke="#4a4a4a" stroke-width="1"/>
<text x="34.6" y="565.6" font-size="10" text-anchor="end" class="t">1.10</text>
<line x1="38.2" y1="728.5" x2="40.1" y2="728.5" stroke="#4a4a4a" stroke-width="1"/>
<line x1="38.2" y1="702.9" x2="40.1" y2="702.9" stroke="#4a4a4a" stroke-width="1"/>
<line x1="38.2" y1="677.3" x2="40.1" y2="677.3" stroke="#4a4a4a" stroke-width="1"/>
<line x1="38.2" y1="651.8" x2="40.1" y2="651.8" stroke="#4a4a4a" stroke-width="1"/>
<line x1="38.2" y1="626.2" x2="40.1" y2="626.2" stroke="#4a4a4a" stroke-width="1"/>
<line x1="38.2" y1="600.6" x2="40.1" y2="600.6" stroke="#4a4a4a" stroke-width="1"/>
<line x1="38.2" y1="575.0" x2="40.1" y2="575.0" stroke="#4a4a4a" stroke-width="1"/>
<line x1="66.9" y1="741.4" x2="66.9" y2="745.0" stroke="#4a4a4a" stroke-width="1"/>
<text x="66.9" y="755.6" font-size="10" text-anchor="middle" class="t">0</text>
<line x1="121.2" y1="741.4" x2="121.2" y2="745.0" stroke="#4a4a4a" stroke-width="1"/>
<text x="121.2" y="755.6" font-size="10" text-anchor="middle" class="t">1</text>
<line x1="175.5" y1="741.4" x2="175.5" y2="745.0" stroke="#4a4a4a" stroke-width="1"/>
<text x="175.5" y="755.6" font-size="10" text-anchor="middle" class="t">2</text>
<line x1="229.8" y1="741.4" x2="229.8" y2="745.0" stroke="#4a4a4a" stroke-width="1"/>
<text x="229.8" y="755.6" font-size="10" text-anchor="middle" class="t">3</text>
<line x1="284.1" y1="741.4" x2="284.1" y2="745.0" stroke="#4a4a4a" stroke-width="1"/>
<text x="284.1" y="755.6" font-size="10" text-anchor="middle" class="t">4</text>
<line x1="94.1" y1="741.4" x2="94.1" y2="743.3" stroke="#4a4a4a" stroke-width="1"/>
<line x1="148.3" y1="741.4" x2="148.3" y2="743.3" stroke="#4a4a4a" stroke-width="1"/>
<line x1="202.7" y1="741.4" x2="202.7" y2="743.3" stroke="#4a4a4a" stroke-width="1"/>
<line x1="256.9" y1="741.4" x2="256.9" y2="743.3" stroke="#4a4a4a" stroke-width="1"/>
<text x="11.3" y="651.7" font-size="12.3" text-anchor="middle" class="t" transform="rotate(-90 11.3 651.7)">Total Amplitude</text>
<text x="162.2" y="772.8" font-size="12" text-anchor="middle" class="t">Time (hr)</text>
<polyline points="67.0,587.6 121.4,614.3 175.2,729.1 229.5,583.4" fill="none" stroke="#222" stroke-width="0.9"/>
<rect x="65.7" y="586.3" width="2.6" height="2.6" fill="#111"/>
<rect x="120.1" y="613.0" width="2.6" height="2.6" fill="#111"/>
<rect x="173.9" y="727.8" width="2.6" height="2.6" fill="#111"/>
<rect x="228.2" y="582.1" width="2.6" height="2.6" fill="#111"/>
<line x1="121.4" y1="612.3" x2="121.4" y2="602.8" stroke="#9a9a9a" stroke-width="0.9"/>
<polygon points="121.4,600.0 122.9,602.8 120.0,602.8" fill="#222"/>
<text x="109.0" y="597.0" font-size="9.6" text-anchor="start" class="t">1st Fe Dose</text>
<line x1="179.4" y1="728.3" x2="187.0" y2="723.8" stroke="#9a9a9a" stroke-width="0.9"/>
<polygon points="189.5,722.4 187.8,725.1 186.3,722.6" fill="#222"/>
<text x="193.1" y="714.6" font-size="9.6" text-anchor="start" class="t">2nd Fe</text>
<text x="193.1" y="726.6" font-size="9.6" text-anchor="start" class="t">Dose</text>
<line x1="229.5" y1="581.0" x2="229.5" y2="571.8" stroke="#9a9a9a" stroke-width="0.9"/>
<polygon points="229.5,569.0 230.9,571.8 228.1,571.8" fill="#222"/>
<text x="219.3" y="566.4" font-size="9.5" class="t">T=600<tspan dy="-2.6">o</tspan><tspan dy="2.6">C</tspan></text>
<line x1="352.8" y1="559.9" x2="352.8" y2="741.9" stroke="#4a4a4a" stroke-width="1"/>
<line x1="352.3" y1="741.4" x2="598.3" y2="741.4" stroke="#4a4a4a" stroke-width="1"/>
<line x1="349.2" y1="724.9" x2="352.8" y2="724.9" stroke="#4a4a4a" stroke-width="1"/>
<text x="347.8" y="728.3" font-size="10" text-anchor="end" class="t">0.60</text>
<line x1="349.2" y1="692.0" x2="352.8" y2="692.0" stroke="#4a4a4a" stroke-width="1"/>
<text x="347.8" y="695.4" font-size="10" text-anchor="end" class="t">0.70</text>
<line x1="349.2" y1="659.1" x2="352.8" y2="659.1" stroke="#4a4a4a" stroke-width="1"/>
<text x="347.8" y="662.5" font-size="10" text-anchor="end" class="t">0.80</text>
<line x1="349.2" y1="626.2" x2="352.8" y2="626.2" stroke="#4a4a4a" stroke-width="1"/>
<text x="347.8" y="629.6" font-size="10" text-anchor="end" class="t">0.90</text>
<line x1="349.2" y1="593.3" x2="352.8" y2="593.3" stroke="#4a4a4a" stroke-width="1"/>
<text x="347.8" y="596.7" font-size="10" text-anchor="end" class="t">1.00</text>
<line x1="349.2" y1="560.4" x2="352.8" y2="560.4" stroke="#4a4a4a" stroke-width="1"/>
<text x="347.8" y="563.8" font-size="10" text-anchor="end" class="t">1.10</text>
<line x1="350.9" y1="708.4" x2="352.8" y2="708.4" stroke="#4a4a4a" stroke-width="1"/>
<line x1="350.9" y1="675.5" x2="352.8" y2="675.5" stroke="#4a4a4a" stroke-width="1"/>
<line x1="350.9" y1="642.6" x2="352.8" y2="642.6" stroke="#4a4a4a" stroke-width="1"/>
<line x1="350.9" y1="609.8" x2="352.8" y2="609.8" stroke="#4a4a4a" stroke-width="1"/>
<line x1="350.9" y1="576.9" x2="352.8" y2="576.9" stroke="#4a4a4a" stroke-width="1"/>
<line x1="380.2" y1="741.4" x2="380.2" y2="745.0" stroke="#4a4a4a" stroke-width="1"/>
<text x="380.2" y="755.6" font-size="10" text-anchor="middle" class="t">0</text>
<line x1="434.6" y1="741.4" x2="434.6" y2="745.0" stroke="#4a4a4a" stroke-width="1"/>
<text x="434.6" y="755.6" font-size="10" text-anchor="middle" class="t">1</text>
<line x1="489.0" y1="741.4" x2="489.0" y2="745.0" stroke="#4a4a4a" stroke-width="1"/>
<text x="489.0" y="755.6" font-size="10" text-anchor="middle" class="t">2</text>
<line x1="543.4" y1="741.4" x2="543.4" y2="745.0" stroke="#4a4a4a" stroke-width="1"/>
<text x="543.4" y="755.6" font-size="10" text-anchor="middle" class="t">3</text>
<line x1="597.8" y1="741.4" x2="597.8" y2="745.0" stroke="#4a4a4a" stroke-width="1"/>
<text x="597.8" y="755.6" font-size="10" text-anchor="middle" class="t">4</text>
<line x1="407.4" y1="741.4" x2="407.4" y2="743.3" stroke="#4a4a4a" stroke-width="1"/>
<line x1="461.8" y1="741.4" x2="461.8" y2="743.3" stroke="#4a4a4a" stroke-width="1"/>
<line x1="516.2" y1="741.4" x2="516.2" y2="743.3" stroke="#4a4a4a" stroke-width="1"/>
<line x1="570.6" y1="741.4" x2="570.6" y2="743.3" stroke="#4a4a4a" stroke-width="1"/>
<text x="323.7" y="650.4" font-size="12.2" text-anchor="middle" class="t" transform="rotate(-90 323.7 650.4)">RMS Phase (rad)</text>
<text x="476.2" y="773.2" font-size="12" text-anchor="middle" class="t">Time (hr)</text>
<polyline points="380.2,701.6 434.8,647.4 489.4,597.9 544.0,724.0" fill="none" stroke="#222" stroke-width="0.9"/>
<rect x="378.9" y="700.3" width="2.6" height="2.6" fill="#111"/>
<rect x="433.5" y="646.1" width="2.6" height="2.6" fill="#111"/>
<rect x="488.1" y="596.6" width="2.6" height="2.6" fill="#111"/>
<rect x="542.7" y="722.7" width="2.6" height="2.6" fill="#111"/>
<line x1="434.8" y1="641.7" x2="434.8" y2="626.5" stroke="#9a9a9a" stroke-width="0.9"/>
<polygon points="434.8,623.7 436.2,626.5 433.4,626.5" fill="#222"/>
<text x="399.7" y="618.2" font-size="9.6" text-anchor="start" class="t">1st Fe Dose</text>
<line x1="489.4" y1="593.9" x2="489.4" y2="585.2" stroke="#9a9a9a" stroke-width="0.9"/>
<polygon points="489.4,582.4 490.8,585.2 487.9,585.2" fill="#222"/>
<text x="470.8" y="579.9" font-size="9.6" text-anchor="start" class="t">2nd Fe Dose</text>
<line x1="544.0" y1="720.2" x2="544.0" y2="710.0" stroke="#9a9a9a" stroke-width="0.9"/>
<polygon points="544.0,707.2 545.5,710.0 542.5,710.0" fill="#222"/>
<text x="540.8" y="705.4" font-size="9.5" class="t">T=600<tspan dy="-2.6">o</tspan><tspan dy="2.6">C</tspan></text>
<text x="215.8" y="241.0" font-size="17.67" class="c">(a) Nanocrystal 1: T=400°C</text>
<text x="216.0" y="509.0" font-size="17.67" class="c">(b) Nanocrystal 2: T=300°C</text>
<text x="216.0" y="798.2" font-size="17.62" class="c">(c) Nanocrystal 3: Initial T=500°C</text>
</svg>
</body></html>
